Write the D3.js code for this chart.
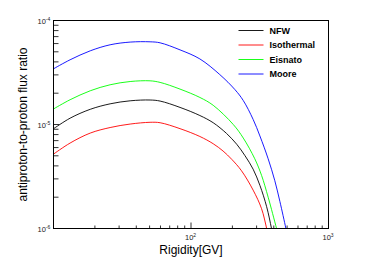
<!DOCTYPE html>
<html>
<head>
<meta charset="utf-8">
<script src="https://cdn.jsdelivr.net/npm/d3@7"></script>
<style>
  body { margin: 0; background: #fff; }
  svg { font-family: 'Liberation Sans', Arial, sans-serif; }
</style>
</head>
<body>
<svg id="chart" width="382" height="260"></svg>
<script>
// rigidity [GV] / antiproton-to-proton ratio
const nfw = [[10, 9.10e-6], [13.2, 1.15e-5], [18.5, 1.40e-5], [25.8, 1.58e-5], [36.1, 1.69e-5],
  [50.4, 1.72e-5], [59.6, 1.68e-5], [83.2, 1.46e-5], [116, 1.22e-5], [145, 1.04e-5],
  [181, 8.22e-6], [215, 6.46e-6], [247, 5.01e-6], [283, 3.72e-6], [317, 2.60e-6],
  [355, 1.62e-6], [385, 1.0e-6], [401, 7.6e-7]];
const isothermal = [[10, 5.19e-6], [13.2, 6.63e-6], [18.5, 8.27e-6], [25.8, 9.35e-6], [36.1, 1.01e-5],
  [50.4, 1.05e-5], [59.6, 1.04e-5], [83.2, 9.12e-6], [116, 7.67e-6], [145, 6.53e-6],
  [171, 5.56e-6], [198, 4.62e-6], [233, 3.59e-6], [283, 2.34e-6], [326, 1.55e-6],
  [355, 1.0e-6], [368, 8.1e-7]];
const eisnato = [[10, 1.41e-5], [13.2, 1.73e-5], [18.5, 2.11e-5], [25.8, 2.41e-5], [36.1, 2.59e-5],
  [50.4, 2.63e-5], [59.6, 2.54e-5], [83.2, 2.19e-5], [116, 1.82e-5], [145, 1.53e-5],
  [203, 1.0e-5], [240, 7.41e-6], [291, 4.68e-6], [326, 3.24e-6], [364, 2.0e-6],
  [419, 1.0e-6], [436, 8.2e-7]];
const moore = [[10, 3.43e-5], [13.2, 4.19e-5], [18.5, 5.11e-5], [25.8, 5.84e-5], [36.1, 6.20e-5],
  [50.4, 6.24e-5], [59.6, 6.10e-5], [83.2, 5.22e-5], [116, 4.27e-5], [162, 3.02e-5],
  [209, 2.16e-5], [240, 1.70e-5], [283, 1.12e-5], [317, 7.76e-6], [364, 4.68e-6],
  [407, 2.88e-6], [443, 1.82e-6], [490, 1.0e-6], [506, 8.1e-7]];

const seriesNames = ['NFW', 'Isothermal', 'Eisnato', 'Moore'];
const seriesColors = ['#000000', '#ff0000', '#00ff00', '#0000ff'];
const seriesData = [nfw, isothermal, eisnato, moore];

const xMajor = [100, 1000];
const yMajor = [1e-6, 1e-5, 1e-4];

const margin = {top: 20.5, right: 53.5, bottom: 31.5, left: 53.5};
const W = 382, H = 260;
const width = W - margin.left - margin.right;
const height = H - margin.top - margin.bottom;

const svg = d3.select('#chart');
const g = svg.append('g')
  .attr('transform', 'translate(' + margin.left + ',' + margin.top + ')');

const x = d3.scaleLog().domain([10, 1000]).range([0, width]);
const y = d3.scaleLog().domain([1e-6, 1e-4]).range([height, 0]);

g.append('clipPath').attr('id', 'clip')
  .append('rect').attr('width', width).attr('height', height);

// minor ticks 2..9 per decade
const xMinor = [];
for (let d = 10; d < 1000; d *= 10) for (let k = 2; k <= 9; k++) xMinor.push(k * d);
const yMinor = [];
for (let d = 1e-6; d < 1e-4; d *= 10) for (let k = 2; k <= 9; k++) yMinor.push(k * d);

g.selectAll('.xminor').data(xMinor).enter().append('line')
  .attr('x1', d => x(d)).attr('x2', d => x(d))
  .attr('y1', height).attr('y2', height - 3)
  .attr('stroke', '#000').attr('stroke-width', 0.8);
g.selectAll('.xmajor').data(xMajor).enter().append('line')
  .attr('x1', d => x(d)).attr('x2', d => x(d))
  .attr('y1', height).attr('y2', height - 6)
  .attr('stroke', '#000').attr('stroke-width', 0.8);
g.selectAll('.yminor').data(yMinor).enter().append('line')
  .attr('x1', 0).attr('x2', 5)
  .attr('y1', d => y(d)).attr('y2', d => y(d))
  .attr('stroke', '#000').attr('stroke-width', 0.8);
g.selectAll('.ymajor').data(yMajor).enter().append('line')
  .attr('x1', 0).attr('x2', 6)
  .attr('y1', d => y(d)).attr('y2', d => y(d))
  .attr('stroke', '#000').attr('stroke-width', 0.8);

// tick labels as 10^n
const powLabel = (sel, d) => {
  const e = Math.round(Math.log10(d));
  sel.append('tspan').text('10');
  sel.append('tspan').attr('dy', -3).attr('font-size', 5).text(e);
};
g.selectAll('.ylab').data(yMajor).enter().append('text')
  .attr('x', -16).attr('y', d => y(d) + 3)
  .attr('font-size', 7.5).attr('fill', '#222')
  .each(function(d) { powLabel(d3.select(this), d); });
g.selectAll('.xlab').data(xMajor).enter().append('text')
  .attr('x', d => x(d) - 6).attr('y', height + 11)
  .attr('font-size', 7.5).attr('fill', '#222')
  .each(function(d) { powLabel(d3.select(this), d); });

// curves
const line = d3.line()
  .x(d => x(d[0]))
  .y(d => y(d[1]))
  .curve(d3.curveCatmullRom.alpha(0.5));

g.append('g').attr('clip-path', 'url(#clip)')
  .selectAll('path').data(seriesData).enter().append('path')
  .attr('d', line)
  .attr('fill', 'none')
  .attr('stroke', (d, i) => seriesColors[i])
  .attr('stroke-width', 0.9);

// frame
g.append('rect').attr('width', width).attr('height', height)
  .attr('fill', 'none').attr('stroke', '#000').attr('stroke-width', 1);

// legend
const legend = g.selectAll('.leg').data(seriesNames).enter().append('g')
  .attr('transform', (d, i) => 'translate(' + (width - 90) + ',' + (10 + i * 14.5) + ')');
legend.append('line')
  .attr('x1', 0).attr('x2', 25)
  .attr('stroke', (d, i) => seriesColors[i]).attr('stroke-width', 0.9);
legend.append('text')
  .attr('x', 31).attr('y', 3)
  .attr('font-size', 9).attr('font-weight', 'bold')
  .text(d => d);

// axis titles
svg.append('text')
  .attr('x', margin.left + width / 2).attr('y', 254)
  .attr('text-anchor', 'middle').attr('font-size', 12)
  .text('Rigidity[GV]');
svg.append('text')
  .attr('transform', 'translate(27,' + (margin.top + height / 2) + ') rotate(-90)')
  .attr('text-anchor', 'middle').attr('font-size', 12)
  .text('antiproton-to-proton flux ratio');
</script>
</body>
</html>
